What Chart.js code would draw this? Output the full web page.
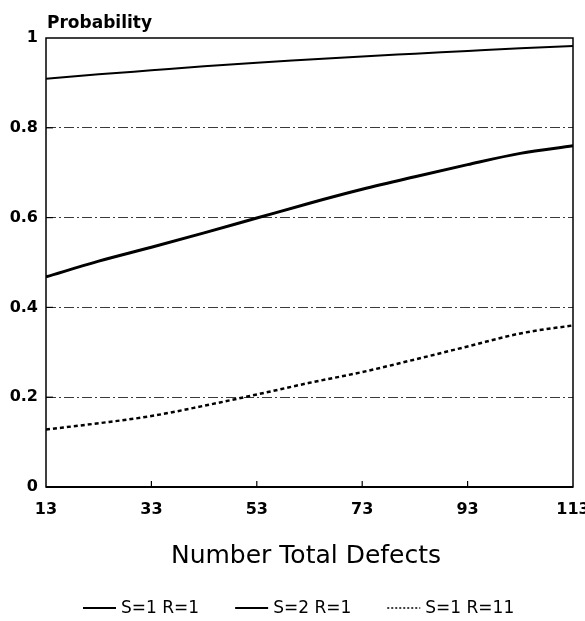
<!DOCTYPE html>
<html>
<head>
<meta charset="utf-8">
<script src="https://cdn.jsdelivr.net/npm/chart.js@4/dist/chart.umd.min.js"></script>
<style>
  html, body { margin: 0; padding: 0; background: #fff; }
  canvas { display: block; }
</style>
</head>
<body>
<canvas id="chart" width="585" height="621"></canvas>
<script>
// values
const defects = [13, 23, 33, 43, 53, 63, 73, 83, 93, 103, 113];
const xTicks = [13, 33, 53, 73, 93, 113];
const yTicks = [0, 0.2, 0.4, 0.6, 0.8, 1];
const s1r1 = [0.909, 0.919, 0.928, 0.937, 0.945, 0.952, 0.959, 0.965, 0.971, 0.977, 0.982];
const s2r1 = [0.468, 0.503, 0.534, 0.566, 0.599, 0.632, 0.663, 0.691, 0.718, 0.743, 0.760];
const s1r11 = [0.128, 0.142, 0.158, 0.181, 0.206, 0.232, 0.256, 0.284, 0.313, 0.342, 0.360];

const seriesLabels = ['S=1 R=1', 'S=2 R=1', 'S=1 R=11'];
const FONT = '"DejaVu Sans", sans-serif';

function toPoints(ys) {
  return ys.map((y, i) => ({ x: defects[i], y: y }));
}

// frame, inward ticks, titles and legend
const decorations = {
  id: 'decorations',
  afterDraw(chart) {
    const ctx = chart.ctx;
    const a = chart.chartArea;
    const xs = chart.scales.x;
    const ys = chart.scales.y;
    ctx.save();
    ctx.strokeStyle = '#000';
    ctx.setLineDash([]);

    ctx.lineWidth = 1.5;
    ctx.strokeRect(a.left, a.top, a.right - a.left, a.bottom - a.top);
    ctx.lineWidth = 2;
    ctx.beginPath();
    ctx.moveTo(a.left, a.bottom);
    ctx.lineTo(a.right, a.bottom);
    ctx.stroke();

    ctx.lineWidth = 1.2;
    xTicks.slice(1, -1).forEach(v => {
      const px = xs.getPixelForValue(v);
      ctx.beginPath();
      ctx.moveTo(px, a.bottom);
      ctx.lineTo(px, a.bottom - 6);
      ctx.stroke();
    });
    yTicks.slice(1, -1).forEach(v => {
      const py = ys.getPixelForValue(v);
      ctx.beginPath();
      ctx.moveTo(a.left, py);
      ctx.lineTo(a.left + 7, py);
      ctx.stroke();
    });

    ctx.fillStyle = '#000';
    ctx.font = 'bold 17px ' + FONT;
    ctx.textAlign = 'left';
    ctx.textBaseline = 'alphabetic';
    ctx.fillText('Probability', 47, 28);

    ctx.font = '25px ' + FONT;
    ctx.textAlign = 'center';
    ctx.textBaseline = 'middle';
    ctx.fillText('Number Total Defects', 306, 556);

    // legend
    ctx.font = '17px ' + FONT;
    ctx.textAlign = 'left';
    let lx = 83;
    const ly = 608;
    chart.data.datasets.forEach((ds, i) => {
      ctx.lineWidth = ds.dotted ? 1.5 : 1.8;
      ctx.setLineDash(ds.dotted ? [2, 2] : []);
      ctx.beginPath();
      ctx.moveTo(lx, ly);
      ctx.lineTo(lx + 33, ly);
      ctx.stroke();
      ctx.setLineDash([]);
      ctx.fillText(ds.label, lx + 38, ly + 1);
      lx += 38 + ctx.measureText(ds.label).width + 36;
    });
    ctx.restore();
  }
};

new Chart(document.getElementById('chart'), {
  type: 'line',
  data: {
    datasets: [
      {
        label: seriesLabels[0],
        data: toPoints(s1r1),
        borderColor: '#000',
        borderWidth: 2,
        pointRadius: 0,
        cubicInterpolationMode: 'monotone'
      },
      {
        label: seriesLabels[1],
        data: toPoints(s2r1),
        borderColor: '#000',
        borderWidth: 3,
        pointRadius: 0,
        cubicInterpolationMode: 'monotone'
      },
      {
        label: seriesLabels[2],
        data: toPoints(s1r11),
        borderColor: '#000',
        borderWidth: 2.5,
        borderDash: [4, 3],
        pointRadius: 0,
        cubicInterpolationMode: 'monotone',
        dotted: true
      }
    ]
  },
  options: {
    responsive: false,
    animation: false,
    layout: { padding: { top: 38, right: 12, bottom: 0, left: 0 } },
    plugins: {
      legend: { display: false },
      tooltip: { enabled: false }
    },
    scales: {
      x: {
        type: 'linear',
        min: 13,
        max: 113,
        afterBuildTicks: s => { s.ticks = xTicks.map(v => ({ value: v })); },
        afterFit: s => { s.height = 134; s.paddingLeft = 0; s.paddingRight = 0; },
        grid: { display: false, drawTicks: false },
        border: { display: false },
        ticks: {
          color: '#000',
          padding: 13,
          maxRotation: 0,
          autoSkip: false,
          font: { family: FONT, size: 16, weight: 'bold' }
        }
      },
      y: {
        min: 0,
        max: 1,
        afterBuildTicks: s => { s.ticks = yTicks.map(v => ({ value: v })); },
        afterFit: s => { s.width = 46; s.paddingTop = 0; s.paddingBottom = 0; },
        grid: {
          drawTicks: false,
          color: c => (c.tick && c.tick.value > 0 && c.tick.value < 1) ? '#3a3a3a' : 'rgba(0,0,0,0)',
          lineWidth: 1
        },
        border: { display: false, dash: [10, 3, 2, 3] },
        ticks: {
          color: '#000',
          padding: 8,
          font: { family: FONT, size: 16, weight: 'bold' },
          callback: v => String(v)
        }
      }
    }
  },
  plugins: [decorations]
});
</script>
</body>
</html>
